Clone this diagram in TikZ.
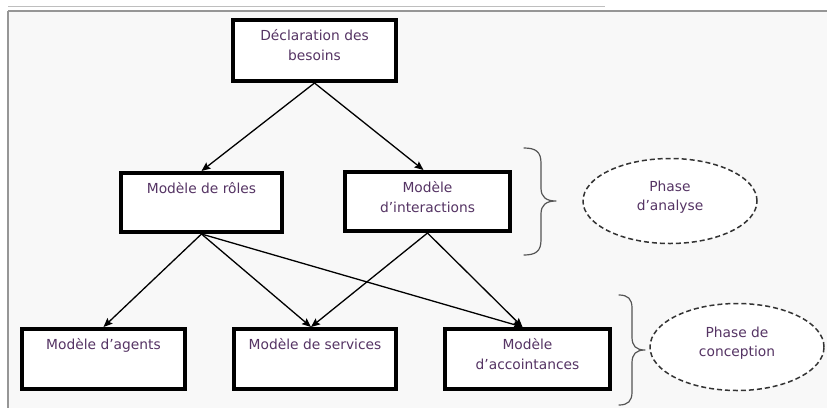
\documentclass[tikz,border=0pt]{standalone}
\usepackage{fontspec}
\setmainfont{DejaVu Sans}
\usetikzlibrary{arrows.meta,shapes.geometric,calc}

\definecolor{ink}{RGB}{85,52,100}
\definecolor{framegray}{RGB}{150,150,150}
\definecolor{framelight}{RGB}{190,190,190}
\definecolor{paper}{RGB}{248,248,248}
\definecolor{bracegray}{RGB}{85,85,85}

% text block of a model box: fixed size, lines hung from the top
\newcommand{\boxtext}[3]{\parbox[c][#2pt][t]{#1pt}{\centering\rule{0pt}{20pt}#3}}

\tikzset{
  modelbox/.style={draw=black, line width=4pt, fill=white, inner sep=0pt,
    text=ink, font=\fontsize{13.8}{20}\selectfont},
  flow/.style={draw=black, line width=1.3pt,
    -{Stealth[length=9pt,width=7.5pt,inset=1.5pt]}},
  phase/.style={ellipse, draw=black!80, line width=1.5pt,
    dash pattern=on 5pt off 3pt, fill=white, inner sep=0pt},
  phasetext/.style={text=ink, align=center, inner sep=0pt,
    font=\fontsize{13.8}{19}\selectfont},
  curly/.style={draw=bracegray, line width=1.2pt, line cap=round, line join=round}
}

\begin{document}
\begin{tikzpicture}[x=1pt,y=-1pt]
\useasboundingbox (0,0) rectangle (827,408);

% page background and frame
\fill[white] (0,0) rectangle (827,408);
\fill[paper] (8,10.5) rectangle (827,408);
\draw[framelight, line width=1pt] (8,6.5) -- (605,6.5);
\draw[framegray, line width=2pt] (8,10.5) -- (827,10.5);
\draw[framegray, line width=1.5pt] (8,10.5) -- (8,408);

% model boxes
\node[modelbox] (decl)     at (314.5,50.5) {\boxtext{163}{61}{Déclaration des\\besoins}};
\node[modelbox] (roles)    at (201.5,202.5) {\boxtext{161}{59}{Modèle de rôles}};
\node[modelbox] (inter)    at (427.5,201.5) {\boxtext{165}{59}{Modèle\\d’interactions}};
\node[modelbox] (agents)   at (103.5,359) {\boxtext{163}{60}{Modèle d’agents}};
\node[modelbox] (services) at (315,359) {\boxtext{162}{60}{Modèle de services}};
\node[modelbox] (accoint)  at (527.5,359) {\boxtext{165}{60}{Modèle\\d’accointances}};

% derivation arrows
\draw[flow] (decl.south) -- (roles.north);
\draw[flow] (decl.south) -- ($(inter.north)+(-4,0)$);
\draw[flow] (roles.south) -- (agents.north);
\draw[flow] (roles.south) -- ($(services.north)+(-4,0)$);
\draw[flow] (roles.south) -- ($(accoint.north)+(-5,0)$);
\draw[flow] (inter.south) -- ($(services.north)+(-4,0)$);
\draw[flow] (inter.south) -- ($(accoint.north)+(-5,0)$);

% braces grouping the phases
\draw[curly] (524,148) .. controls (536,148) and (541,152) .. (541,163)
  -- (541,188) .. controls (541,197) and (546,201) .. (556,201)
  .. controls (546,201) and (541,205) .. (541,214)
  -- (541,240) .. controls (541,251) and (536,255) .. (524,255);
\draw[curly] (619,295) .. controls (628,295) and (632,299) .. (632,308)
  -- (632,337) .. controls (632,346) and (636,350) .. (645,350)
  .. controls (636,350) and (632,354) .. (632,363)
  -- (632,392) .. controls (632,401) and (628,405) .. (619,405);

% phase ellipses
\node[phase, minimum width=174pt, minimum height=85pt] (analyse) at (670,201) {};
\node[phasetext] (analyse-t) at ($(analyse)+(0,-4)$) {Phase\\d’analyse};
\node[phase, minimum width=174pt, minimum height=87pt] (concep) at (737,347) {};
\node[phasetext] (concep-t) at ($(concep)+(0,-4)$) {Phase de\\conception};
\end{tikzpicture}
\end{document}
